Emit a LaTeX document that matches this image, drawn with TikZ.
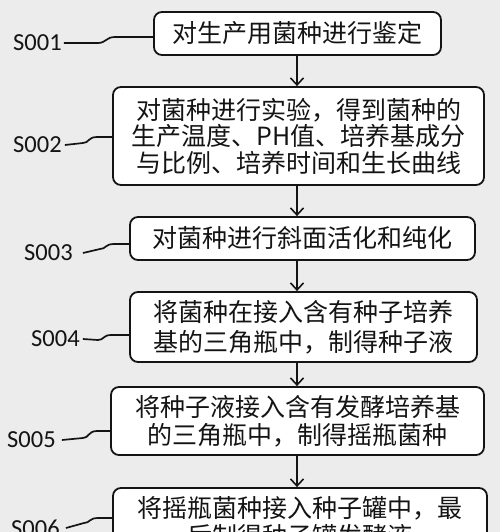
\documentclass[tikz,border=0pt]{standalone}
\usepackage{fontspec}
\newfontfamily\cjk{Noto Sans CJK SC}
\newfontfamily\labfont{Carlito}
\usetikzlibrary{arrows.meta}
\definecolor{bg}{RGB}{236,236,236}
\definecolor{ink}{RGB}{20,20,20}
\tikzset{
  stepbox/.style={draw=ink, line width=1.8pt, rounded corners=8pt, fill=white,
    align=center, inner sep=0pt, text=ink, font=\cjk\fontsize{25}{28}\selectfont},
  steplabel/.style={inner sep=0pt, text=ink, font=\labfont\fontsize{24.5}{24.5}\selectfont},
  flow/.style={draw=ink, line width=1.6pt, -{Straight Barb[length=7pt,width=13pt,line width=1.6pt]}},
  lead/.style={draw=ink, line width=1.7pt}
}
\begin{document}
\begin{tikzpicture}[x=1pt,y=-1pt]
\clip (0,0) rectangle (500,532);
\fill[bg] (0,0) rectangle (500,532);
\coordinate (ax) at (297,0);
% boxes
\node[stepbox, minimum width=287pt, minimum height=43pt] (b1) at (297.5,33.5) {对生产用菌种进行鉴定};
\node[stepbox, minimum width=371pt, minimum height=98pt, font=\cjk\fontsize{25}{26.5}\selectfont] (b2) at (298.5,136)
  {对菌种进行实验，得到菌种的\\生产温度、PH值、培养基成分\\与比例、培养时间和生长曲线};
\node[stepbox, minimum width=345pt, minimum height=43pt] (b3) at (302.5,238.5) {对菌种进行斜面活化和纯化};
\node[stepbox, minimum width=347pt, minimum height=70pt, font=\cjk\fontsize{25}{30}\selectfont] (b4) at (303.5,327)
  {将菌种在接入含有种子培养\\基的三角瓶中，制得种子液};
\node[stepbox, minimum width=373pt, minimum height=68pt] (b5) at (297.5,421)
  {将种子液接入含有发酵培养基\\的三角瓶中，制得摇瓶菌种};
\node[stepbox, minimum width=374pt, minimum height=68pt] (b6) at (300,522)
  {将摇瓶菌种接入种子罐中，最\\后制得种子罐发酵液};
% arrows
\draw[flow] (b1.south -| ax) -- (b2.north -| ax);
\draw[flow] (b2.south -| ax) -- (b3.north -| ax);
\draw[flow] (b3.south -| ax) -- (b4.north -| ax);
\draw[flow] (b4.south -| ax) -- (b5.north -| ax);
\draw[flow] (b5.south -| ax) -- (b6.north -| ax);
% labels
\node[steplabel, anchor=west] (l1) at (13,43) {S001};
\node[steplabel, anchor=west] (l2) at (13,145) {S002};
\node[steplabel, anchor=west] (l3) at (24,253) {S003};
\node[steplabel, anchor=west] (l4) at (31,339) {S004};
\node[steplabel, anchor=west] (l5) at (7,440) {S005};
\node[steplabel, anchor=west] (l6) at (11,528) {S006};
% leaders
\draw[lead] ([xshift=2pt]l1.east) -- (98,43) .. controls (106,43) and (106,37) .. (115,37) -- (b1.west |- 0,37);
\draw[lead] ([xshift=3pt]l2.east) -- (83,143) .. controls (89,143) and (88,137) .. (97,137) -- (b2.west |- 0,137);
\draw[lead] ([xshift=10pt]l3.east) -- (100,249) .. controls (106,249) and (105,244) .. (114,244) -- (b3.west |- 0,244);
\draw[lead] ([xshift=3pt]l4.east) -- (98,340) .. controls (104,340) and (103,335) .. (111,335) -- (b4.west |- 0,335);
\draw[lead] ([xshift=6pt]l5.east) -- (83,438) .. controls (89,438) and (88,431) .. (97,431) -- (b5.west |- 0,431);
\draw[lead] ([xshift=6pt]l6.east) -- (84,523) .. controls (90,523) and (89,518) .. (98,518) -- (b6.west |- 0,518);
\end{tikzpicture}
\end{document}
